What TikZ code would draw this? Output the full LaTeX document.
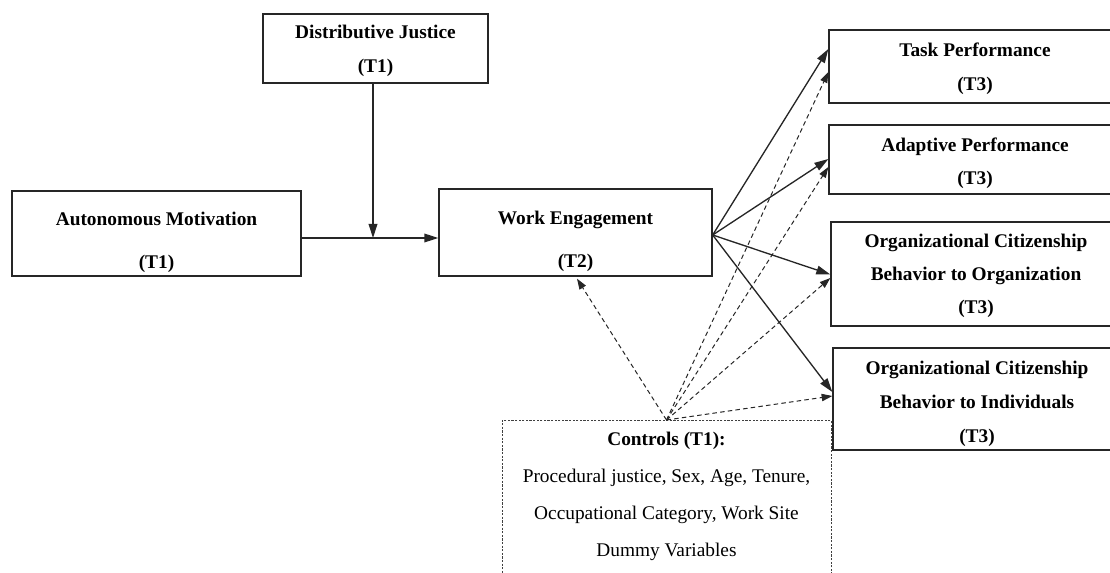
\documentclass[tikz,border=0pt]{standalone}
\usepackage{fontspec}
\setmainfont{Liberation Serif}
\usetikzlibrary{arrows.meta,calc}
\begin{document}
\begin{tikzpicture}[x=0.75pt,y=-0.75pt,
  box/.style={draw=black!85, line width=1pt, inner sep=0pt, text=black,
    font=\fontsize{14.5}{#1}\selectfont\bfseries},
  box/.default=25.5,
  ctrlbox/.style={draw=black!75, line width=0.6pt, dash pattern=on 1.6pt off 1.1pt,
    align=center, text=black, inner ysep=9pt, font=\fontsize{14.5}{27.75}\selectfont},
  solidarrow/.style={draw=black!85, line width=1pt, -{Triangle[length=10.5pt,width=6.5pt]}},
  dasharrow/.style={draw=black!85, line width=0.75pt, dash pattern=on 3.4pt off 2.4pt,
    -{Triangle[length=8pt,width=5.5pt]}}
]
\useasboundingbox (0,0) rectangle (1110,573);

% boxes
\node[box=25.8, minimum width=168.75pt, minimum height=51.75pt] (dj) at (375.5,48.5)
  {\begin{tabular}{@{}c@{}}Distributive Justice\\(T1)\end{tabular}};
\node[box=17, minimum width=216.75pt, minimum height=63.75pt] (am) at (156.5,233.5)
  {\begin{tabular}{@{}c@{}}\rule{0pt}{24.7pt}Autonomous Motivation\\[15.25pt](T1)\end{tabular}};
\node[box=17, minimum width=204.75pt, minimum height=65.25pt] (we) at (575.5,232.5)
  {\begin{tabular}{@{}c@{}}\rule{0pt}{24.7pt}Work Engagement\\[15.25pt](T2)\end{tabular}};
\node[box=25.5, minimum width=219pt, minimum height=54.75pt] (task) at (975,66.5)
  {\begin{tabular}{@{}c@{}}Task Performance\\(T3)\end{tabular}};
\node[box=24.75, minimum width=219pt, minimum height=51.75pt] (adapt) at (975,159.5)
  {\raisebox{-1.5pt}[\height][\depth]{\begin{tabular}{@{}c@{}}Adaptive Performance\\(T3)\end{tabular}}};
\node[box=24.75, minimum width=217.5pt, minimum height=78pt] (ocbo) at (976,274)
  {\begin{tabular}{@{}c@{}}Organizational Citizenship\\Behavior to Organization\\(T3)\end{tabular}};
\node[box=25.4, minimum width=216pt, minimum height=76.5pt] (ocbi) at (977,399)
  {\raisebox{-1.9pt}[\height][\depth]{\begin{tabular}{@{}c@{}}Organizational Citizenship\\Behavior to Individuals\\(T3)\end{tabular}}};
\node[ctrlbox, anchor=north, minimum width=246.75pt] (ctrl) at (666.5,420)
  {\textbf{Controls (T1):}\\Procedural justice, Sex, Age, Tenure,\\Occupational Category, Work Site\\Dummy Variables\rule[-60pt]{0pt}{1pt}};

% moderation
\coordinate (j) at (373,238);
\draw[solidarrow] (j |- dj.south) -- (j);
\draw[solidarrow] (j -| am.east) -- (j -| we.west);

% work engagement to outcomes
\coordinate (weo) at ($(we.east)+(0,2.5)$);
\draw[solidarrow] (weo) -- ($(task.west)+(0,-17.5)$);
\draw[solidarrow] (weo) -- ($(adapt.west)+(0,-0.5)$);
\draw[solidarrow] (weo) -- ($(ocbo.west)+(0,0.5)$);
\draw[solidarrow] (weo) -- ($(ocbi.west)+(0,-7)$);

% controls
\draw[dasharrow] (ctrl.north) -- ($(we.south)+(1.5,2)$);
\draw[dasharrow] (ctrl.north) -- ($(task.west)+(0,5.5)$);
\draw[dasharrow] (ctrl.north) -- ($(adapt.west)+(0,7.5)$);
\draw[dasharrow] (ctrl.north) -- ($(ocbo.west)+(0,4)$);
\draw[dasharrow] (ctrl.north) -- ($(ocbi.west)+(0,-3)$);
\end{tikzpicture}
\end{document}
